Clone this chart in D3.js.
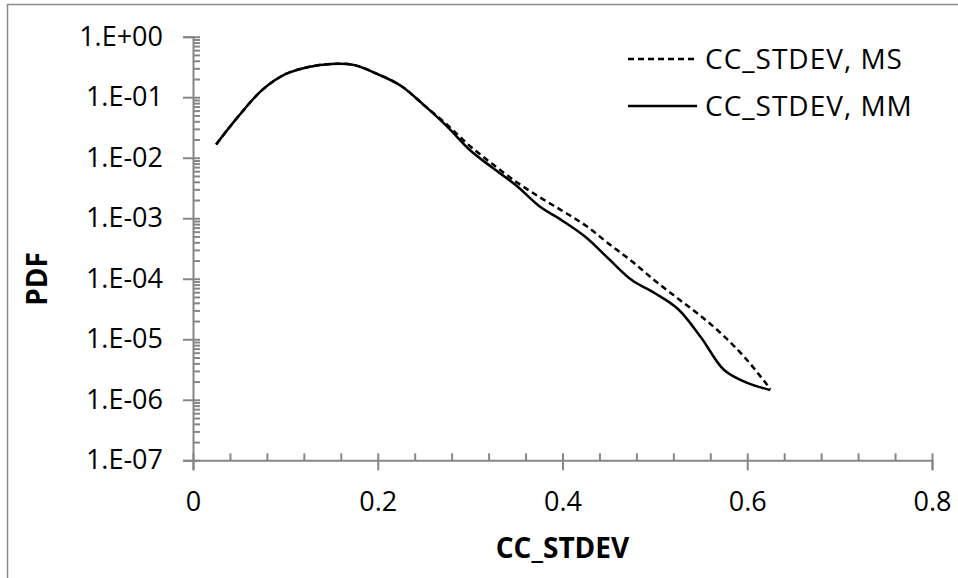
<!DOCTYPE html>
<html lang="en">
<head>
    <meta charset="UTF-8">
    <title>PDF of CC_STDEV</title>
    <script src="https://cdn.jsdelivr.net/npm/d3@7"></script>
    <style>
        body { margin: 0; background: #fff; }
        text { font-family: "Open Sans", sans-serif; fill: #000; }
    </style>
</head>
<body>
    <div id="chart"></div>
    <script>
        // CC_STDEV values (x) and the two PDF series
        const ccStdev = [0.025, 0.05, 0.075, 0.1, 0.125, 0.15, 0.175, 0.2, 0.225, 0.25, 0.275,
                         0.3, 0.325, 0.35, 0.375, 0.4, 0.425, 0.45, 0.475, 0.5, 0.525, 0.55, 0.575, 0.6, 0.625];
        const pdfMS = [0.0166, 0.0501, 0.132, 0.240, 0.316, 0.355, 0.339, 0.240, 0.155, 0.0741, 0.0352,
                       0.0155, 7.7e-3, 3.98e-3, 2.24e-3, 1.32e-3, 7.6e-4, 3.8e-4, 1.95e-4, 9.3e-5, 4.7e-5, 2.4e-5, 1.12e-5, 4.5e-6, 1.5e-6];
        const pdfMM = [0.0166, 0.0501, 0.132, 0.240, 0.316, 0.355, 0.339, 0.240, 0.155, 0.0741, 0.0330,
                       0.0133, 6.7e-3, 3.47e-3, 1.58e-3, 9.1e-4, 4.9e-4, 2.14e-4, 9.5e-5, 5.75e-5, 3.16e-5, 1.07e-5, 3.1e-6, 1.9e-6, 1.45e-6];
        const seriesNames = ["CC_STDEV, MS", "CC_STDEV, MM"];
        const xTicks = [0, 0.2, 0.4, 0.6, 0.8];
        const xMinor = [0.04, 0.08, 0.12, 0.16, 0.24, 0.28, 0.32, 0.36, 0.44, 0.48, 0.52, 0.56, 0.64, 0.68, 0.72, 0.76];
        const yTicks = [1, 1e-1, 1e-2, 1e-3, 1e-4, 1e-5, 1e-6, 1e-7];

        const width = 958, height = 578;
        const axisColor = "#868686";

        const svg = d3.select("#chart").append("svg")
            .attr("width", width)
            .attr("height", height);

        // chart area border (only top and left edges are in view)
        svg.append("path")
            .attr("d", "M7.5,580 V4.5 H960")
            .attr("fill", "none")
            .attr("stroke", "#8c8c8c")
            .attr("stroke-width", 1.5);

        const x = d3.scaleLinear().domain([0, 0.8]).range([193, 932]);
        const y = d3.scaleLog().domain([1e-7, 1]).range([460.3, 36.7]);

        // minor log ticks 2..9 per decade, inside only
        const yMinor = [];
        for (let e = -7; e < 0; e++) {
            for (let m = 2; m <= 9; m++) yMinor.push(m * Math.pow(10, e));
        }

        const fmt = d => {
            const e = Math.round(Math.log10(d));
            return "1.E" + (e >= 0 ? "+" : "-") + String(Math.abs(e)).padStart(2, "0");
        };

        // y axis
        const gy = svg.append("g")
            .attr("transform", `translate(${x(0)},0)`)
            .call(d3.axisLeft(y).tickValues(yTicks).tickFormat(fmt).tickSize(10).tickPadding(20));
        gy.selectAll(".tick line").attr("x1", 7);
        svg.append("g")
            .attr("transform", `translate(${x(0)},0)`)
            .call(d3.axisRight(y).tickValues(yMinor).tickFormat("").tickSize(7))
            .select(".domain").remove();

        // x axis
        const gx = svg.append("g")
            .attr("transform", `translate(0,${y(1e-7)})`)
            .call(d3.axisBottom(x).tickValues(xTicks).tickFormat(d3.format("")).tickSize(10).tickPadding(22));
        gx.selectAll(".tick line").attr("y1", -7);
        svg.append("g")
            .attr("transform", `translate(0,${y(1e-7)})`)
            .call(d3.axisTop(x).tickValues(xMinor).tickFormat("").tickSize(7))
            .select(".domain").remove();

        svg.selectAll(".domain, .tick line")
            .attr("stroke", axisColor)
            .attr("stroke-width", 2);
        svg.selectAll(".tick text")
            .attr("fill", "#000")
            .style("font-family", "Open Sans")
            .style("font-size", "27px");

        // axis titles
        svg.append("text")
            .attr("x", (x(0) + x(0.8)) / 2)
            .attr("y", 558)
            .attr("text-anchor", "middle")
            .style("font-size", "28px")
            .style("font-weight", "bold")
            .text("CC_STDEV");
        svg.append("text")
            .attr("transform", "translate(47,279) rotate(-90)")
            .attr("text-anchor", "middle")
            .style("font-size", "28px")
            .style("font-weight", "bold")
            .text("PDF");

        // series
        const line = d3.line()
            .x(d => x(d[0]))
            .y(d => y(d[1]))
            .curve(d3.curveCatmullRom.alpha(0.5));

        const series = [
            { name: seriesNames[0], values: pdfMS, dash: "6,4" },
            { name: seriesNames[1], values: pdfMM, dash: null }
        ];

        series.forEach(s => {
            svg.append("path")
                .datum(ccStdev.map((c, i) => [c, s.values[i]]))
                .attr("fill", "none")
                .attr("stroke", "#000")
                .attr("stroke-width", 2.5)
                .attr("stroke-dasharray", s.dash)
                .attr("d", line);
        });

        // legend
        const legend = svg.append("g");
        series.forEach((s, i) => {
            const ly = 59 + i * 47;
            legend.append("line")
                .attr("x1", 628).attr("x2", 697)
                .attr("y1", ly).attr("y2", ly)
                .attr("stroke", "#000")
                .attr("stroke-width", 2.5)
                .attr("stroke-dasharray", s.dash);
            legend.append("text")
                .attr("x", 705)
                .attr("y", ly)
                .attr("dy", "0.35em")
                .style("font-size", "28px")
                .style("letter-spacing", "1px")
                .text(s.name);
        });
    </script>
</body>
</html>
